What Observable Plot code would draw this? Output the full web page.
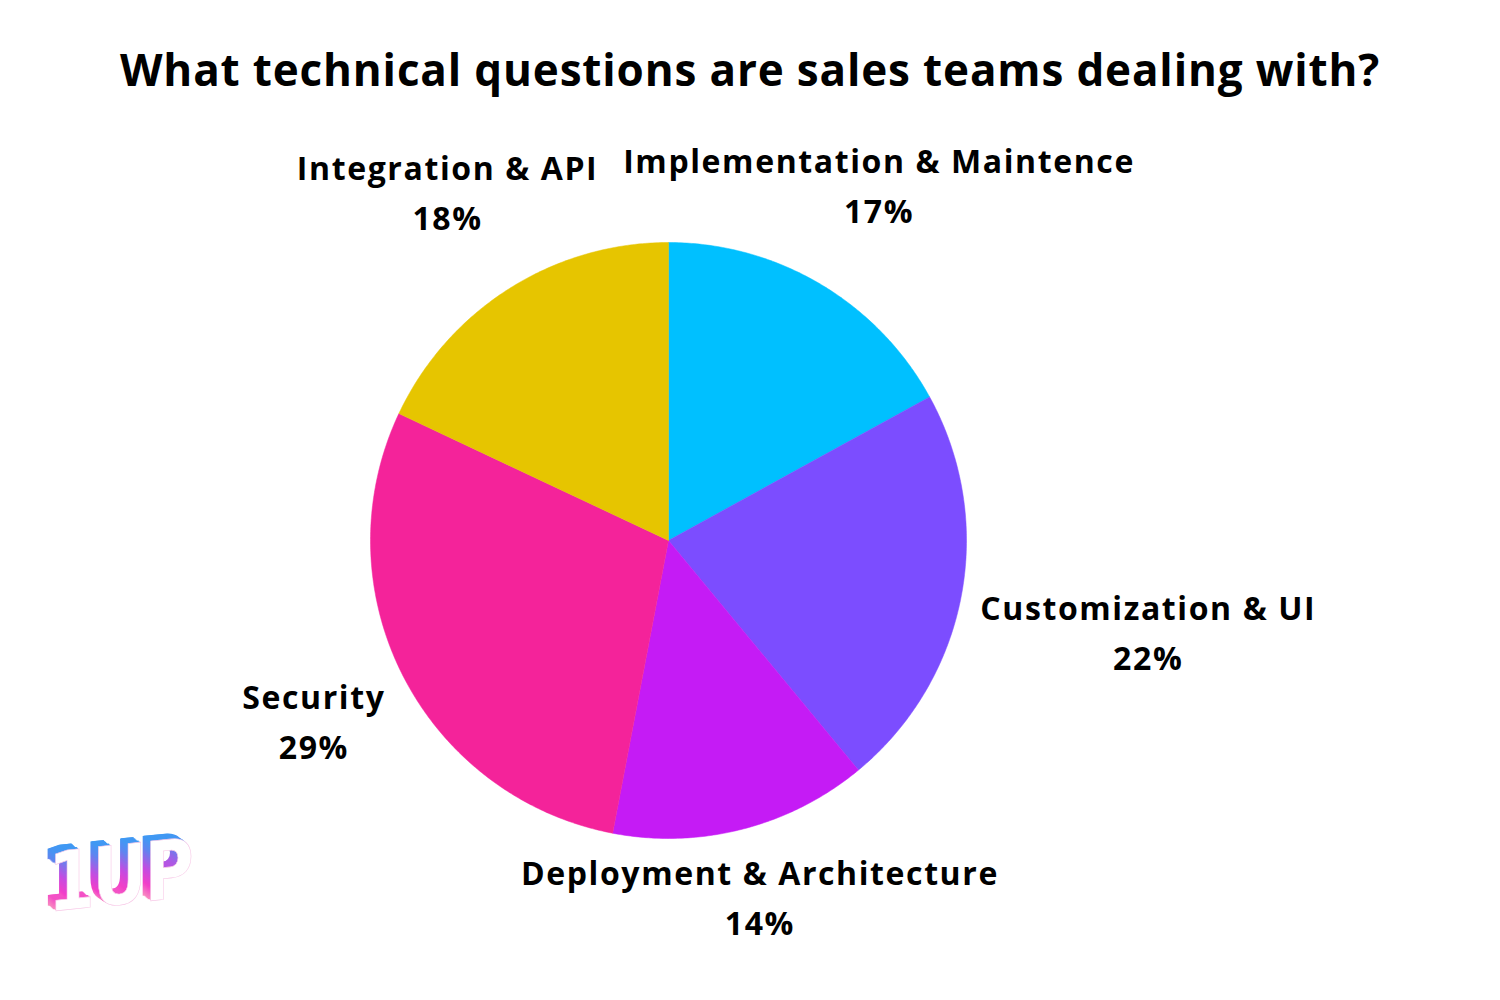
<!DOCTYPE html>
<html>
<head>
<meta charset="utf-8">
<script src="https://cdn.jsdelivr.net/npm/d3@7"></script>
<script src="https://cdn.jsdelivr.net/npm/@observablehq/plot@0.6"></script>
<style>
  html, body { margin: 0; padding: 0; background: #fff; }
  body { width: 1500px; height: 1000px; position: relative; overflow: hidden; font-family: "Open Sans", sans-serif; }
  #title { height: 115px; box-sizing: border-box; padding-top: 47px; text-align: center; font-size: 44px; font-weight: 700; color: #000; line-height: 1; letter-spacing: 0.85px; }
  #chart svg { display: block; }
  #logo { position: absolute; left: 36px; top: 834px; width: 175px; height: 95px; transform: skewY(-6deg); transform-origin: 0 100%; }
  #logo span { position: absolute; font-family: "DejaVu Sans", sans-serif; font-weight: 700; font-size: 82px; letter-spacing: -3px; line-height: 1; transform-origin: 0 0; transform: scaleX(0.82); white-space: nowrap; }
  #logo .back { background: linear-gradient(180deg, #27a9f6 0%, #5d86f0 25%, #c64be0 50%, #f23fc8 68%, #ffd8b8 100%); -webkit-background-clip: text; background-clip: text; color: transparent; }
  #logo .front { color: #fff; -webkit-text-stroke: 0.6px #f7c6e6; }
</style>
</head>
<body>
<div id="title">What technical questions are sales teams dealing with?</div>
<div id="chart"></div>
<div id="logo"></div>
<script>
// ---- data ----
const categories = ["Implementation & Maintence", "Customization & UI", "Deployment & Architecture", "Security", "Integration & API"];
const shares = [17, 22, 14, 29, 18];
const colors = ["#00c0ff", "#7c4dff", "#c51bf5", "#f4239a", "#e6c500"];
const logoText = "1UP";

// ---- logo (extruded gradient letters) ----
const logo = document.getElementById("logo");
for (let k = 8; k >= 1; k--) {
  const s = document.createElement("span");
  s.className = "back"; s.textContent = logoText;
  s.style.left = (12 - k) + "px"; s.style.top = (10 - k * 0.8) + "px";
  logo.appendChild(s);
}
const f = document.createElement("span");
f.className = "front"; f.textContent = logoText;
f.style.left = "12px"; f.style.top = "10px";
logo.appendChild(f);

// ---- layout ----
const W = 1500, H = 885;
const cx = 668, cy = 425, R = 298;     // pixel centre/radius of pie inside svg
const gap = 18;                         // label clearance from pie edge
const fontSize = 32, lineH = 50, letterSp = 1.6;
const labelFont = `700 ${fontSize}px "Open Sans"`;

const data = categories.map((name, i) => ({name, value: shares[i]}));
const arcs = d3.pie().sort(null).value(d => d.value).startAngle(0).endAngle(2 * Math.PI)(data);

// polygons in unit coordinates (y up, angle clockwise from top)
const poly = [];
for (const a of arcs) {
  const n = Math.max(2, Math.ceil((a.endAngle - a.startAngle) / (Math.PI / 360)));
  poly.push({name: a.data.name, x: 0, y: 0});
  for (let k = 0; k <= n; k++) {
    const t = a.startAngle + (a.endAngle - a.startAngle) * k / n;
    poly.push({name: a.data.name, x: Math.sin(t), y: Math.cos(t)});
  }
  poly.push({name: a.data.name, x: 0, y: 0});
}

// label placement: box centred along mid-angle whose nearest point is R+gap from centre
const ctx = document.createElement("canvas").getContext("2d");
ctx.font = labelFont;
const tw = s => ctx.measureText(s).width + letterSp * s.length;
const labels = arcs.map(a => {
  const mid = (a.startAngle + a.endAngle) / 2;
  const text = `${a.data.name}\n${a.data.value}%`;
  const w = Math.max(tw(a.data.name), tw(a.data.value + "%"));
  const hw = w / 2, hh = 40;
  const ux = Math.sin(mid), uy = -Math.cos(mid);
  let lo = 0, hi = 2000;
  for (let k = 0; k < 60; k++) {
    const t = (lo + hi) / 2;
    const dx = Math.max(Math.abs(t * ux) - hw, 0), dy = Math.max(Math.abs(t * uy) - hh, 0);
    if (Math.hypot(dx, dy) < R + gap) lo = t; else hi = t;
  }
  return {text, x: lo * ux / R, y: -lo * uy / R};
});

const chart = Plot.plot({
  width: W,
  height: H,
  margin: 0,
  x: {domain: [-cx / R, (W - cx) / R], axis: null},
  y: {domain: [-(H - cy) / R, cy / R], axis: null},
  color: {domain: categories, range: colors},
  style: {background: "#fff", letterSpacing: `${letterSp}px`},
  marks: [
    Plot.line(poly, {x: "x", y: "y", z: "name", fill: "name", stroke: "name", strokeWidth: 0.5, curve: "linear"}),
    Plot.text(labels, {
      x: "x", y: "y", text: "text", dy: -3,
      fontSize: fontSize, fontWeight: 700, fontFamily: "Open Sans",
      lineHeight: lineH / fontSize, fill: "#000", textAnchor: "middle"
    })
  ]
});
document.getElementById("chart").appendChild(chart);
</script>
</body>
</html>
